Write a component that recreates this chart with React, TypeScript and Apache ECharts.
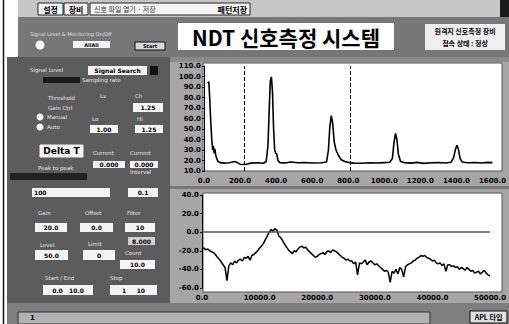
import React, { useEffect, useRef } from "react";
import * as echarts from "echarts";

// ---- Top chart (pulse signal) ----
const topX = [20, 27, 32, 38, 44, 48, 52, 56, 60, 64, 70, 78, 90, 110, 140, 170, 185, 200, 230, 260, 300, 330, 345, 355, 362, 368, 374, 380, 386, 392, 398, 404, 410, 420, 450, 480, 520, 560, 600, 650, 680, 690, 698, 706, 714, 722, 732, 745, 760, 780, 800, 830, 870, 920, 960, 1000, 1030, 1045, 1053, 1062, 1070, 1078, 1090, 1110, 1150, 1180, 1220, 1260, 1300, 1340, 1370, 1385, 1395, 1403, 1412, 1420, 1432, 1460, 1500, 1540, 1570, 1600];
const topY = [94, 95, 78, 55, 38, 30, 34, 27, 31, 26, 22, 19, 18, 17.5, 17.8, 19, 18, 16.5, 16.2, 17.5, 17.8, 17.4, 19, 35, 70, 96, 99.6, 85, 50, 30, 27, 26, 20, 18, 17.6, 18.5, 17.8, 18.1, 17.6, 17.9, 18.6, 30, 52, 62.8, 55, 38, 30, 25, 21, 19, 18.2, 17.5, 17.4, 17.9, 17.6, 18, 18.3, 22, 36, 45.8, 40, 26, 19, 18, 17.5, 18.2, 17.3, 17.8, 18.1, 17.6, 18.3, 23, 31, 34.5, 30, 22, 18.5, 17.8, 18.1, 17.6, 18.2, 18];
const cursorPositions = [225, 811];

// ---- Bottom chart (noisy signal) ----
const sampleStep = 50000 / 150;
const bottomY = [
  -18, -17, -19, -18, -20, -21, -22, -24, -27, -29,
  -32, -35, -38, -52, -36, -33, -35, -31, -33, -30,
  -29, -31, -27, -28, -26, -30, -25, -24, -22, -20,
  -17, -15, -12, -8, -4, 0, 3, 1, 4, 2,
  -4, -6, -9, -13, -16, -19, -21, -23, -20, -21,
  -18, -16, -15, -17, -16, -19, -21, -23, -25, -27,
  -26, -24, -23, -22, -24, -21, -20, -22, -19, -20,
  -21, -23, -25, -27, -28, -30, -29, -31, -31, -34,
  -32, -46, -33, -34, -32, -30, -35, -32, -31, -33,
  -35, -34, -36, -38, -40, -42, -41, -43, -54, -42,
  -44, -40, -45, -38, -40, -48, -37, -35, -34, -33,
  -31, -30, -28, -27, -25, -26, -25, -27, -28, -29,
  -31, -30, -33, -34, -33, -36, -34, -42, -35, -35,
  -37, -36, -38, -37, -40, -38, -39, -41, -38, -40,
  -42, -41, -44, -43, -42, -45, -43, -41, -44, -46, -47,
];
const zeroLine = [0];

const LAT = '"DejaVu Sans", sans-serif';
const KR = '"Noto Sans CJK KR", sans-serif';

function rect(x: number, y: number, w: number, h: number, fill: string, stroke?: string, z = -10) {
  return {
    type: "rect", z, silent: true,
    shape: { x, y, width: w, height: h },
    style: { fill, stroke: stroke || null, lineWidth: stroke ? 1 : 0 },
  };
}
function txt(x: number, y: number, text: string, size: number, color: string, opts: any = {}) {
  return {
    type: "text", z: -5, silent: true, x, y,
    style: {
      text, fontSize: size, fill: color,
      fontWeight: opts.weight || "normal",
      fontFamily: opts.family || LAT,
      align: opts.align || "left", textAlign: opts.align || "left",
      verticalAlign: "middle", textVerticalAlign: "middle",
    },
  };
}
function box(x: number, y: number, w: number, h: number, label: string, opts: any = {}) {
  const els: any[] = [rect(x, y, w, h, opts.fill || "#f4f4f4", opts.stroke, -8)];
  const align = opts.align || "center";
  const tx = align === "left" ? x + 2 : x + w / 2;
  els.push(txt(tx, y + h / 2, label, opts.size || 6, opts.color || "#000", { weight: opts.weight || "bold", align, family: opts.family }));
  return els;
}

export default function App() {
  const ref = useRef<HTMLDivElement>(null);
  useEffect(() => {
    document.body.style.margin = "0";
    const chart = echarts.init(ref.current!, undefined, { renderer: "svg" });

    const g: any[] = [];
    g.push(rect(0, 0, 509, 324, "#ffffff", undefined, -20));
    g.push({ type: "line", z: -9, silent: true, shape: { x1: 3.5, y1: 0, x2: 3.5, y2: 324 }, style: { stroke: "#111", lineWidth: 1.5 } });
    // top menu bar
    g.push(rect(18, 0, 482, 17, "#c6c6c6"));
    g.push(rect(500, 0, 9, 17, "#1a1a1a"));
    g.push(...box(38, 3, 25, 12, "설정", { family: KR, size: 8, stroke: "#222" }));
    g.push(...box(64, 3, 24, 12, "장비", { family: KR, size: 8, stroke: "#222" }));
    g.push(rect(90, 3, 160, 12, "#f4f4f4", "#222", -8));
    g.push(txt(94, 9, "신호 파일 열기 · 저장", 7, "#333", { family: KR }));
    g.push(txt(247, 9, "패턴저장", 8, "#000", { family: KR, weight: "bold", align: "right" }));
    // title band
    g.push(rect(18, 17, 491, 40, "#777777"));
    g.push(rect(178, 23, 216, 27, "#ffffff", undefined, -8));
    g.push(txt(286, 37, "NDT 신호측정 시스템", 21, "#000", { family: KR, weight: "bold", align: "center" }));
    g.push(txt(30, 34, "Signal Level & Monitoring On/Off", 5, "#e0e0e0"));
    g.push({ type: "circle", z: -8, silent: true, shape: { cx: 40, cy: 45, r: 4.5 }, style: { fill: "#fff" } });
    g.push(...box(73, 41, 37, 7, "AllAll", { size: 5 }));
    g.push(...box(135, 42, 30, 8, "Start", { fill: "#d8d8d8", stroke: "#111", size: 5 }));
    g.push(rect(425, 24, 80, 26, "#f0f0f0", undefined, -8));
    g.push(txt(465, 31, "원격지 신호측정 장비", 7, "#000", { family: KR, weight: "bold", align: "center" }));
    g.push(txt(465, 43, "접속 상태 : 정상", 7, "#000", { family: KR, weight: "bold", align: "center" }));
    // left panel
    g.push(rect(7, 57, 163, 248, "#5c5c5c"));
    // chart panel
    g.push(rect(170, 57, 339, 248, "#a6a6a6"));
    g.push(rect(170, 57, 339, 5, "#8a8a8a"));
    g.push(rect(170, 186, 339, 3, "#7a7a7a"));
    g.push(rect(203, 63, 299, 108, "#ffffff", "#555", -8));
    g.push(rect(203, 193, 299, 99, "#ffffff", "#555", -8));
    // status bar
    g.push(rect(7, 303, 502, 21, "#7e7e7e"));
    g.push(rect(18, 312, 412, 12, "#b2b2b2", "#333", -8));
    g.push(txt(30, 318, "1", 7, "#000", { weight: "bold" }));
    g.push(...box(470, 311, 37, 12, "APL 타입", { fill: "#e0e0e0", stroke: "#111", size: 7, family: KR }));

    // left panel controls
    const boxes: [number, number, number, number, string][] = [
      [88, 66, 59, 9, "Signal Search"], [133, 103, 30, 9, "1.25"], [90, 125, 28, 8, "1.00"],
      [135, 125, 28, 8, "1.25"], [93, 161, 32, 7, "0.000"], [130, 161, 28, 7, "0.000"],
      [128, 188, 30, 9, "0.1"], [35, 223, 32, 9, "20.0"], [80, 223, 33, 9, "0.0"],
      [125, 223, 30, 9, "10"], [35, 250, 33, 10, "50.0"], [83, 250, 32, 10, "0"],
      [120, 260, 35, 9, "10.0"], [43, 285, 50, 10, "0.0   10.0"], [110, 285, 47, 10, "1     10"],
    ];
    boxes.forEach((b) => g.push(...box(b[0], b[1], b[2], b[3], b[4])));
    g.push(...box(32, 188, 78, 9, "100", { align: "left" }));
    g.push(...box(128, 237, 27, 8, "8.000", { fill: "#d0d0d0" }));
    g.push(...box(40, 145, 43, 12, "Delta T", { size: 9, stroke: "#eee" }));
    g.push(rect(150, 66, 8, 9, "#111", undefined, -8));
    g.push(rect(43, 77, 37, 6, "#1a1a1a", undefined, -8));
    g.push(rect(10, 173, 77, 7, "#222", undefined, -8));
    const labels: [number, number, string][] = [
      [30, 70, "Signal Level"], [82, 80, "Sampling rate"], [48, 98, "Threshold"], [48, 108, "Gain Ctrl"],
      [47, 117, "Manual"], [47, 127, "Auto"], [100, 96, "Lv"], [135, 96, "Ch"], [92, 119, "Lo"],
      [137, 119, "Hi"], [93, 153, "Current"], [130, 153, "Current"], [38, 168, "Peak to peak"],
      [130, 172, "Interval"], [38, 213, "Gain"], [85, 213, "Offset"], [127, 213, "Filter"],
      [40, 245, "Level"], [88, 244, "Limit"], [125, 253, "Count"], [45, 278, "Start / End"], [110, 278, "Step"],
    ];
    labels.forEach((l) => g.push(txt(l[0], l[1], l[2], 5.5, "#e8e8e8")));
    [117, 127].forEach((cy) => g.push({ type: "circle", z: -8, silent: true, shape: { cx: 40, cy, r: 3.5 }, style: { fill: "#fff" } }));

    const axLabel = { fontSize: 7, fontWeight: "bold", color: "#000", fontFamily: LAT, formatter: (v: number) => v.toFixed(1) };

    chart.setOption({
      animation: false,
      graphic: { elements: g },
      grid: [
        { left: 204, right: 13, top: 66, height: 105 },
        { left: 202, right: 9, top: 195, height: 93 },
      ],
      xAxis: [
        { type: "value", gridIndex: 0, min: 0, max: 1600, interval: 200, axisLine: { show: false }, axisTick: { show: false }, splitLine: { show: false }, axisLabel: { ...axLabel, margin: 6 } },
        { type: "value", gridIndex: 1, min: 0, max: 50000, interval: 10000, axisLine: { show: false }, axisTick: { show: false }, splitLine: { show: false }, axisLabel: { ...axLabel, margin: 6 } },
      ],
      yAxis: [
        { type: "value", gridIndex: 0, min: 10, max: 110, interval: 10, axisLine: { show: true, lineStyle: { color: "#000" } }, axisTick: { show: true, length: 2, lineStyle: { color: "#000" } }, splitLine: { show: false }, axisLabel: { ...axLabel, margin: 3 } },
        { type: "value", gridIndex: 1, min: -60, max: 40, interval: 20, axisLine: { show: true, lineStyle: { color: "#000" } }, axisTick: { show: true, length: 2, lineStyle: { color: "#000" } }, splitLine: { show: false }, axisLabel: { ...axLabel, margin: 3 } },
      ],
      series: [
        {
          type: "line", xAxisIndex: 0, yAxisIndex: 0, symbol: "none",
          data: topX.map((x, i) => [x, topY[i]]),
          lineStyle: { color: "#000", width: 1.6 },
          markLine: {
            silent: true, symbol: ["none", "none"], label: { show: false },
            lineStyle: { color: "#000", type: "dashed", width: 1 },
            data: cursorPositions.map((v) => ({ xAxis: v })),
          },
        },
        {
          type: "line", xAxisIndex: 1, yAxisIndex: 1, symbol: "none",
          data: bottomY.map((y, i) => [i * sampleStep, y]),
          lineStyle: { color: "#000", width: 1.5 },
          markLine: {
            silent: true, symbol: ["none", "none"], label: { show: false },
            lineStyle: { color: "#555", type: "solid", width: 1.5 },
            data: zeroLine.map((v) => ({ yAxis: v })),
          },
        },
      ],
    });
    return () => chart.dispose();
  }, []);
  return <div ref={ref} style={{ width: 509, height: 324 }} />;
}
